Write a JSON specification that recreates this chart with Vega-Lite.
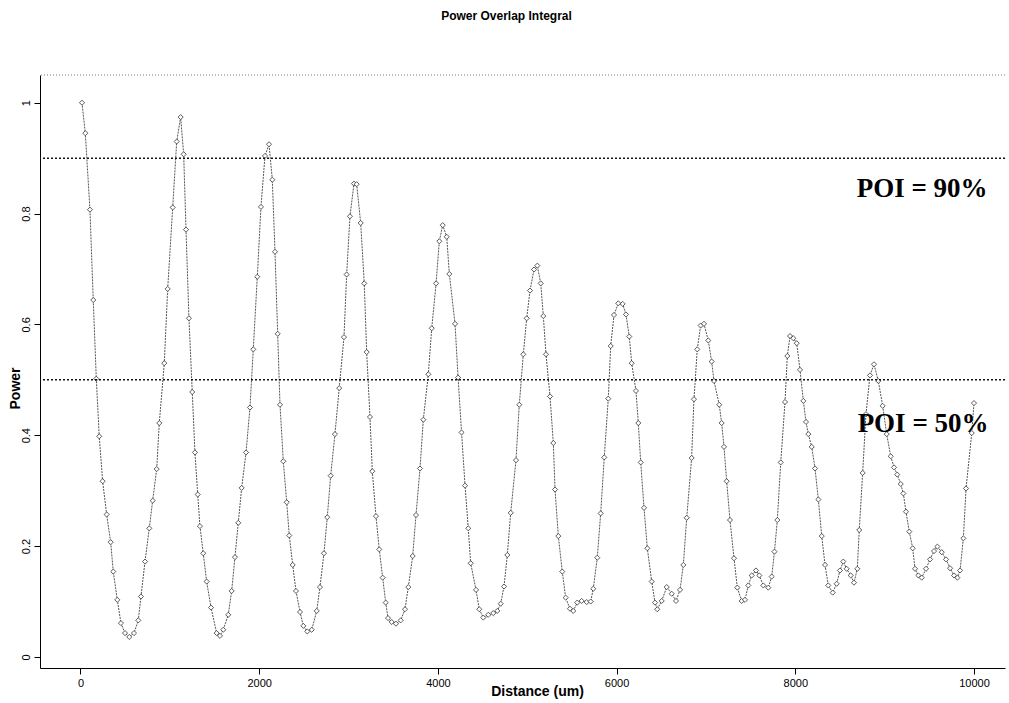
{
  "$schema": "https://vega.github.io/schema/vega-lite/v6.json",
  "width": 965,
  "height": 593,
  "autosize": {"type": "none"},
  "padding": {"left": 40, "top": 75, "right": 4, "bottom": 35},
  "background": "white",
  "title": {"text": "Power Overlap Integral", "font": "Liberation Sans", "fontSize": 12, "fontWeight": "bold", "color": "#000", "offset": 52, "anchor": "middle", "dx": -16},
  "config": {
    "view": {"stroke": null},
    "axis": {"grid": false, "domainColor": "#000", "tickColor": "#000", "labelColor": "#000", "titleColor": "#000", "labelFont": "Liberation Sans", "titleFont": "Liberation Sans", "labelFontSize": 11, "titleFontSize": 14, "titleFontWeight": "bold", "labelOverlap": false}
  },
  "datasets": {
    "poi": [
      {"distance": 17, "power": 1.0}, {"distance": 54, "power": 0.945}, {"distance": 106, "power": 0.807}, {"distance": 143, "power": 0.644},
      {"distance": 177, "power": 0.502}, {"distance": 210, "power": 0.398}, {"distance": 248, "power": 0.317}, {"distance": 293, "power": 0.257},
      {"distance": 338, "power": 0.207}, {"distance": 367, "power": 0.154}, {"distance": 412, "power": 0.103}, {"distance": 453, "power": 0.061},
      {"distance": 498, "power": 0.043}, {"distance": 546, "power": 0.036}, {"distance": 599, "power": 0.043}, {"distance": 647, "power": 0.066},
      {"distance": 677, "power": 0.109}, {"distance": 722, "power": 0.172}, {"distance": 770, "power": 0.232}, {"distance": 808, "power": 0.282},
      {"distance": 853, "power": 0.339}, {"distance": 882, "power": 0.422}, {"distance": 938, "power": 0.53}, {"distance": 976, "power": 0.664},
      {"distance": 1032, "power": 0.811}, {"distance": 1077, "power": 0.93}, {"distance": 1121, "power": 0.974}, {"distance": 1155, "power": 0.907},
      {"distance": 1181, "power": 0.771}, {"distance": 1214, "power": 0.611}, {"distance": 1251, "power": 0.478}, {"distance": 1281, "power": 0.369},
      {"distance": 1312, "power": 0.293}, {"distance": 1337, "power": 0.236}, {"distance": 1374, "power": 0.187}, {"distance": 1412, "power": 0.136},
      {"distance": 1461, "power": 0.089}, {"distance": 1524, "power": 0.043}, {"distance": 1561, "power": 0.038}, {"distance": 1598, "power": 0.049},
      {"distance": 1654, "power": 0.076}, {"distance": 1692, "power": 0.119}, {"distance": 1729, "power": 0.18}, {"distance": 1766, "power": 0.242},
      {"distance": 1804, "power": 0.305}, {"distance": 1853, "power": 0.369}, {"distance": 1897, "power": 0.45}, {"distance": 1934, "power": 0.555},
      {"distance": 1979, "power": 0.686}, {"distance": 2020, "power": 0.812}, {"distance": 2065, "power": 0.904}, {"distance": 2110, "power": 0.925},
      {"distance": 2147, "power": 0.861}, {"distance": 2177, "power": 0.731}, {"distance": 2207, "power": 0.583}, {"distance": 2233, "power": 0.455},
      {"distance": 2270, "power": 0.353}, {"distance": 2308, "power": 0.279}, {"distance": 2337, "power": 0.219}, {"distance": 2375, "power": 0.166},
      {"distance": 2412, "power": 0.119}, {"distance": 2457, "power": 0.081}, {"distance": 2494, "power": 0.056}, {"distance": 2538, "power": 0.046},
      {"distance": 2588, "power": 0.049}, {"distance": 2644, "power": 0.083}, {"distance": 2680, "power": 0.126}, {"distance": 2725, "power": 0.187},
      {"distance": 2762, "power": 0.252}, {"distance": 2800, "power": 0.327}, {"distance": 2848, "power": 0.402}, {"distance": 2896, "power": 0.485},
      {"distance": 2949, "power": 0.577}, {"distance": 2979, "power": 0.69}, {"distance": 3016, "power": 0.795}, {"distance": 3061, "power": 0.854},
      {"distance": 3091, "power": 0.853}, {"distance": 3136, "power": 0.783}, {"distance": 3176, "power": 0.674}, {"distance": 3203, "power": 0.55},
      {"distance": 3240, "power": 0.433}, {"distance": 3266, "power": 0.335}, {"distance": 3307, "power": 0.254}, {"distance": 3344, "power": 0.194},
      {"distance": 3382, "power": 0.143}, {"distance": 3416, "power": 0.098}, {"distance": 3442, "power": 0.07}, {"distance": 3483, "power": 0.063},
      {"distance": 3531, "power": 0.06}, {"distance": 3584, "power": 0.066}, {"distance": 3632, "power": 0.086}, {"distance": 3669, "power": 0.126},
      {"distance": 3718, "power": 0.182}, {"distance": 3755, "power": 0.256}, {"distance": 3800, "power": 0.34}, {"distance": 3837, "power": 0.428},
      {"distance": 3893, "power": 0.51}, {"distance": 3931, "power": 0.593}, {"distance": 3980, "power": 0.674}, {"distance": 4016, "power": 0.75},
      {"distance": 4054, "power": 0.779}, {"distance": 4099, "power": 0.758}, {"distance": 4128, "power": 0.691}, {"distance": 4192, "power": 0.601},
      {"distance": 4226, "power": 0.504}, {"distance": 4265, "power": 0.405}, {"distance": 4304, "power": 0.309}, {"distance": 4340, "power": 0.232},
      {"distance": 4367, "power": 0.169}, {"distance": 4427, "power": 0.121}, {"distance": 4463, "power": 0.086}, {"distance": 4508, "power": 0.071},
      {"distance": 4564, "power": 0.076}, {"distance": 4620, "power": 0.079}, {"distance": 4665, "power": 0.083}, {"distance": 4703, "power": 0.096},
      {"distance": 4740, "power": 0.127}, {"distance": 4777, "power": 0.184}, {"distance": 4815, "power": 0.26}, {"distance": 4874, "power": 0.355},
      {"distance": 4911, "power": 0.455}, {"distance": 4956, "power": 0.546}, {"distance": 4994, "power": 0.611}, {"distance": 5031, "power": 0.661},
      {"distance": 5076, "power": 0.699}, {"distance": 5113, "power": 0.706}, {"distance": 5151, "power": 0.674}, {"distance": 5180, "power": 0.615},
      {"distance": 5210, "power": 0.546}, {"distance": 5255, "power": 0.47}, {"distance": 5292, "power": 0.386}, {"distance": 5311, "power": 0.302},
      {"distance": 5348, "power": 0.218}, {"distance": 5392, "power": 0.154}, {"distance": 5430, "power": 0.107}, {"distance": 5478, "power": 0.087},
      {"distance": 5515, "power": 0.083}, {"distance": 5560, "power": 0.098}, {"distance": 5609, "power": 0.101}, {"distance": 5665, "power": 0.099},
      {"distance": 5710, "power": 0.1}, {"distance": 5739, "power": 0.123}, {"distance": 5784, "power": 0.179}, {"distance": 5822, "power": 0.259},
      {"distance": 5862, "power": 0.36}, {"distance": 5907, "power": 0.466}, {"distance": 5934, "power": 0.561}, {"distance": 5971, "power": 0.617},
      {"distance": 6019, "power": 0.638}, {"distance": 6068, "power": 0.637}, {"distance": 6105, "power": 0.618}, {"distance": 6142, "power": 0.578},
      {"distance": 6169, "power": 0.53}, {"distance": 6217, "power": 0.48}, {"distance": 6243, "power": 0.422}, {"distance": 6270, "power": 0.351},
      {"distance": 6307, "power": 0.269}, {"distance": 6344, "power": 0.196}, {"distance": 6393, "power": 0.136}, {"distance": 6430, "power": 0.098},
      {"distance": 6455, "power": 0.086}, {"distance": 6505, "power": 0.101}, {"distance": 6561, "power": 0.126}, {"distance": 6617, "power": 0.114},
      {"distance": 6665, "power": 0.101}, {"distance": 6710, "power": 0.121}, {"distance": 6747, "power": 0.166}, {"distance": 6785, "power": 0.251},
      {"distance": 6840, "power": 0.359}, {"distance": 6866, "power": 0.465}, {"distance": 6903, "power": 0.555}, {"distance": 6941, "power": 0.598},
      {"distance": 6978, "power": 0.601}, {"distance": 7026, "power": 0.571}, {"distance": 7064, "power": 0.533}, {"distance": 7090, "power": 0.498},
      {"distance": 7149, "power": 0.455}, {"distance": 7176, "power": 0.422}, {"distance": 7202, "power": 0.379}, {"distance": 7232, "power": 0.317},
      {"distance": 7269, "power": 0.247}, {"distance": 7314, "power": 0.178}, {"distance": 7351, "power": 0.125}, {"distance": 7400, "power": 0.101},
      {"distance": 7437, "power": 0.103}, {"distance": 7474, "power": 0.129}, {"distance": 7512, "power": 0.147}, {"distance": 7560, "power": 0.156},
      {"distance": 7597, "power": 0.147}, {"distance": 7642, "power": 0.129}, {"distance": 7698, "power": 0.125}, {"distance": 7736, "power": 0.145},
      {"distance": 7767, "power": 0.19}, {"distance": 7799, "power": 0.247}, {"distance": 7837, "power": 0.351}, {"distance": 7885, "power": 0.46},
      {"distance": 7911, "power": 0.543}, {"distance": 7941, "power": 0.579}, {"distance": 7978, "power": 0.575}, {"distance": 8016, "power": 0.566},
      {"distance": 8053, "power": 0.518}, {"distance": 8090, "power": 0.462}, {"distance": 8120, "power": 0.424}, {"distance": 8146, "power": 0.402},
      {"distance": 8184, "power": 0.379}, {"distance": 8221, "power": 0.34}, {"distance": 8258, "power": 0.284}, {"distance": 8296, "power": 0.218},
      {"distance": 8333, "power": 0.166}, {"distance": 8369, "power": 0.129}, {"distance": 8419, "power": 0.116}, {"distance": 8463, "power": 0.132},
      {"distance": 8500, "power": 0.156}, {"distance": 8537, "power": 0.172}, {"distance": 8575, "power": 0.159}, {"distance": 8620, "power": 0.147},
      {"distance": 8657, "power": 0.134}, {"distance": 8694, "power": 0.159}, {"distance": 8716, "power": 0.229}, {"distance": 8754, "power": 0.332},
      {"distance": 8791, "power": 0.438}, {"distance": 8836, "power": 0.508}, {"distance": 8881, "power": 0.528}, {"distance": 8929, "power": 0.498},
      {"distance": 8978, "power": 0.453}, {"distance": 9023, "power": 0.402}, {"distance": 9068, "power": 0.362}, {"distance": 9105, "power": 0.342},
      {"distance": 9141, "power": 0.329}, {"distance": 9180, "power": 0.312}, {"distance": 9209, "power": 0.295}, {"distance": 9239, "power": 0.262},
      {"distance": 9276, "power": 0.226}, {"distance": 9314, "power": 0.196}, {"distance": 9340, "power": 0.159}, {"distance": 9377, "power": 0.147},
      {"distance": 9415, "power": 0.143}, {"distance": 9463, "power": 0.159}, {"distance": 9508, "power": 0.176}, {"distance": 9553, "power": 0.191},
      {"distance": 9590, "power": 0.199}, {"distance": 9639, "power": 0.189}, {"distance": 9687, "power": 0.176}, {"distance": 9732, "power": 0.16},
      {"distance": 9777, "power": 0.147}, {"distance": 9814, "power": 0.143}, {"distance": 9844, "power": 0.156}, {"distance": 9881, "power": 0.214},
      {"distance": 9911, "power": 0.304}, {"distance": 9975, "power": 0.404}, {"distance": 10000, "power": 0.458}
    ]
  },
  "layer": [
    {
      "data": {"name": "poi"},
      "mark": {"type": "line", "color": "#555", "strokeWidth": 1, "strokeDash": [2, 1]},
      "encoding": {
        "x": {
          "field": "distance", "type": "quantitative",
          "scale": {"domain": [-453, 10347], "nice": false, "zero": false},
          "axis": {
            "title": "Distance (um)", "titleFontSize": 14, "titlePadding": -4, "titleX": 497,
            "values": [0, 2000, 4000, 6000, 8000, 10000],
            "labelExpr": "format(datum.value, 'd')",
            "tickSize": 6, "labelPadding": 3, "labelFlush": false, "labelOverlap": false
          }
        },
        "y": {
          "field": "power", "type": "quantitative",
          "scale": {"domain": [-0.02, 1.05], "nice": false, "zero": false},
          "axis": {
            "title": "Power", "titlePadding": -2, "titleY": 313,
            "values": [0, 0.2, 0.4, 0.6, 0.8, 1],
            "labelExpr": "format(datum.value, '~g')",
            "tickSize": 6, "labelAngle": -90, "labelPadding": 3, "labelFlush": false, "labelOverlap": false
          }
        }
      }
    },
    {
      "data": {"name": "poi"},
      "mark": {"type": "point", "shape": "diamond", "filled": true, "fill": "white", "stroke": "#333", "strokeWidth": 0.8, "size": 26, "opacity": 1},
      "encoding": {
        "x": {"field": "distance", "type": "quantitative"},
        "y": {"field": "power", "type": "quantitative"}
      }
    },
    {
      "data": {"values": [{}]},
      "mark": {"type": "rule", "color": "#777", "strokeDash": [1, 2], "strokeWidth": 1},
      "encoding": {"y": {"datum": 1.05}}
    },
    {
      "data": {"values": [{}]},
      "mark": {"type": "rule", "color": "#111", "strokeDash": [2, 2], "strokeWidth": 1.5},
      "encoding": {"y": {"datum": 0.9}}
    },
    {
      "data": {"values": [{}]},
      "mark": {"type": "rule", "color": "#111", "strokeDash": [2, 2], "strokeWidth": 1.5},
      "encoding": {"y": {"datum": 0.5}}
    },
    {
      "data": {"values": [{}]},
      "mark": {"type": "text", "font": "Liberation Serif", "fontSize": 27, "fontWeight": "bold", "color": "#000"},
      "encoding": {"x": {"datum": 9420}, "y": {"datum": 0.845}, "text": {"value": "POI = 90%"}}
    },
    {
      "data": {"values": [{}]},
      "mark": {"type": "text", "font": "Liberation Serif", "fontSize": 27, "fontWeight": "bold", "color": "#000"},
      "encoding": {"x": {"datum": 9430}, "y": {"datum": 0.42}, "text": {"value": "POI = 50%"}}
    }
  ]
}
